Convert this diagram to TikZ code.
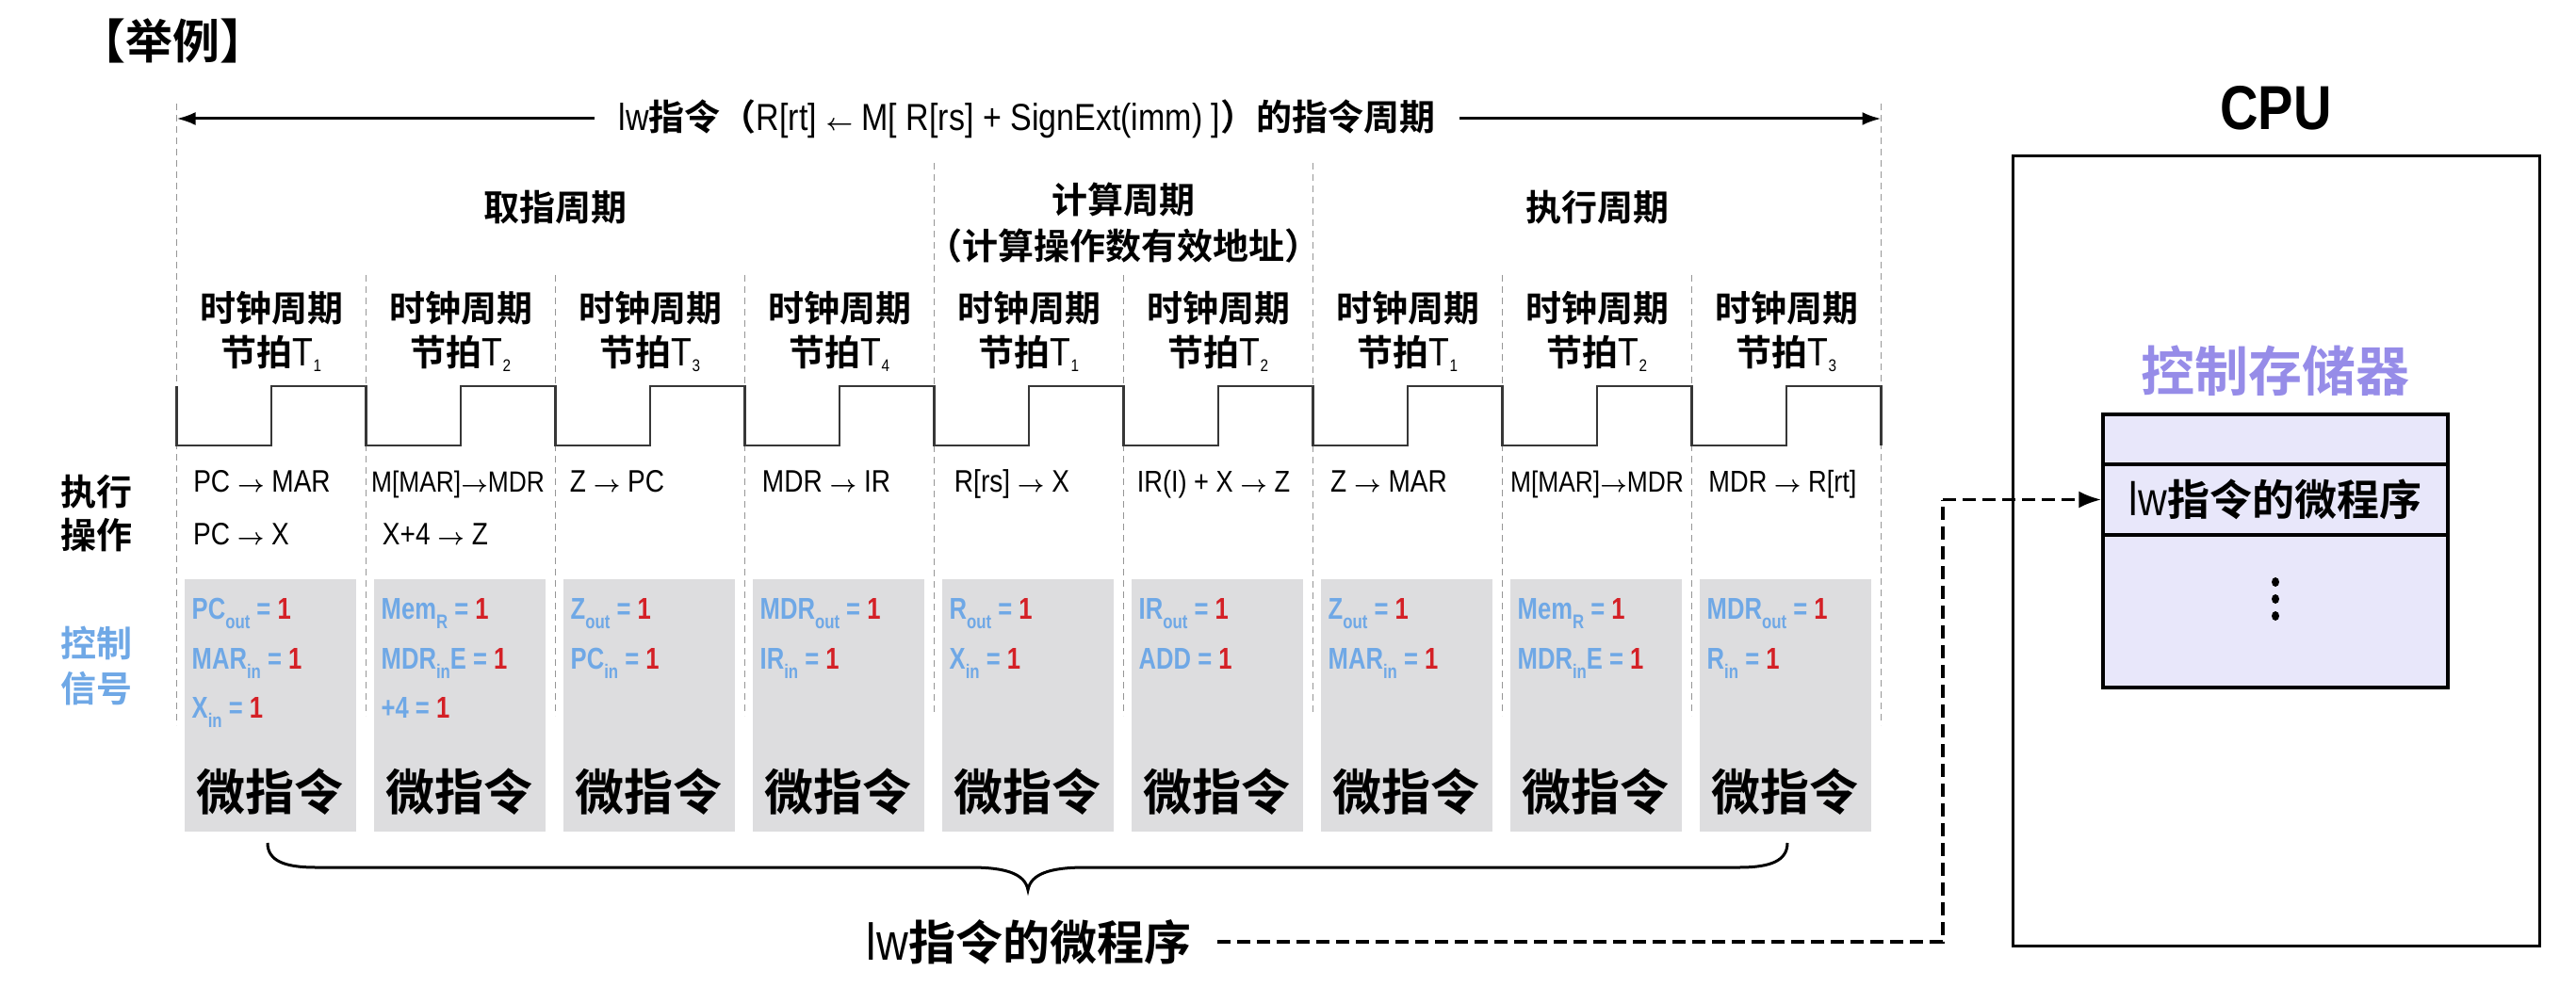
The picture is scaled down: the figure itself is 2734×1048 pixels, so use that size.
\documentclass[tikz,border=0pt]{standalone}
\usepackage{fontspec}
\setmainfont{Liberation Sans}
\newfontfamily\lat{Liberation Sans}[FakeStretch=0.85]
\newfontfamily\latsig{Liberation Sans Bold}[FakeStretch=0.8]
\newfontfamily\cjk{Noto Sans CJK SC Bold}
\usetikzlibrary{arrows.meta,calc}
\definecolor{sigblue}{RGB}{111,168,230}
\definecolor{sigred}{RGB}{212,32,38}
\definecolor{boxgray}{RGB}{221,221,223}
\definecolor{purp}{RGB}{150,140,232}
\definecolor{lav}{RGB}{232,231,250}
\definecolor{dashgray}{RGB}{150,150,150}
\definecolor{wavecol}{RGB}{55,55,55}
\newcommand\fs[1]{\fontsize{#1}{#1}\selectfont}
\newcommand\lo[1]{\raisebox{-10pt}{\fs{21}#1}}
\newcommand\one{{\color{sigred}1}}
\newcommand\tb[1]{{\lat\fs{42}T\raisebox{-6pt}{\fs{18}#1}}}
\newcommand\ra{\ {\boldmath$\rightarrow$}\ }
\newcommand\rb{{\boldmath$\rightarrow$}}
\newcommand\la{\ {\boldmath$\leftarrow$}\ }
\begin{document}
\begin{tikzpicture}[x=1pt,y=-1pt,
  sep/.style={draw=dashgray, line width=1.6pt, dash pattern=on 7pt off 5pt},
  wave/.style={draw=wavecol, line width=2.6pt},
  gbox/.style={fill=boxgray, minimum width=182pt, minimum height=268pt, inner sep=0pt},
  cjkl/.style={inner sep=0pt, font=\cjk\fs{38}},
  opl/.style={inner sep=0pt, anchor=base, font=\lat\fs{33}},
  sigl/.style={inner sep=0pt, anchor=base west, font=\latsig\fs{32}, text=sigblue},
  mic/.style={inner sep=0pt, font=\cjk\fs{52}},
  memrow/.style={draw=black, line width=3.5pt, fill=lav, minimum width=366pt, inner sep=0pt},
  dconn/.style={draw=black, line width=3.5pt, dash pattern=on 14pt off 7pt},
]
\useasboundingbox (0,0) rectangle (2734,1048);

% title
\node[inner sep=0pt, font=\cjk\fs{50}] (ex) at (183,43) {【举例】};

% separators
\foreach \i/\ya/\yb in {0/110/770,1/292/760,2/292/760,3/292/760,4/173/760,5/292/760,6/173/760,7/292/760,8/292/760,9/110/770}
  \draw[sep] ({187.5+201*\i},\ya) -- ({187.5+201*\i},\yb);

% instruction cycle arrow
\coordinate (tl) at (187.5,126);
\coordinate (tr) at (1996.5,126);
\node[inner xsep=26pt, inner ysep=0pt, font=\cjk\fs{38}] (title) at (1090,126)
  {{\lat\fs{40}lw}指令（{\lat\fs{40}R[rt]\la M[ R[rs] + SignExt(imm) ]}）的指令周期};
\draw[line width=3pt, -{Latex[length=20pt,width=14pt]}] (title.west) -- (tl);
\draw[line width=3pt, -{Latex[length=20pt,width=14pt]}] (title.east) -- (tr);

% phases
\node[cjkl] (ph1) at (589.5,220) {取指周期};
\node[cjkl] (ph2) at (1192.5,212) {计算周期};
\node[cjkl] (ph2b) at (1192.5,261) {（计算操作数有效地址）};
\node[cjkl] (ph3) at (1695,220) {执行周期};

% clock labels
\foreach \i/\t in {0/1,1/2,2/3,3/4,4/1,5/2,6/1,7/2,8/3} {
  \node[cjkl] (clk\i) at ({288+201*\i},327) {时钟周期};
  \node[cjkl] (beat\i) at ({288+201*\i},375) {节拍\tb{\t}};
}

% waveform
\draw[wave] (187.5,410) \foreach \i in {0,...,8}{ -- ++(0,63) -- ++(100.5,0) -- ++(0,-63) -- ++(100.5,0) } -- ++(0,63);

% row labels
\node[cjkl] (rl1) at (102,522) {执行};
\node[cjkl] (rl2) at (102,568) {操作};
\node[cjkl, text=sigblue] (rl3) at (102,683) {控制};
\node[cjkl, text=sigblue] (rl4) at (102,731) {信号};

% operations
\node[opl] (op1a) at (278,522) {PC\ra MAR};
\node[opl] (op1b) at (256,578) {PC\ra X};
\node[opl, font=\lat\fs{31}] (op2a) at (486,522) {M[MAR]\rb MDR};
\node[opl] (op2b) at (462,578) {X+4\ra Z};
\node[opl] (op3a) at (655,522) {Z\ra PC};
\node[opl] (op4a) at (877,522) {MDR\ra IR};
\node[opl] (op5a) at (1074,522) {R[rs]\ra X};
\node[opl, font=\lat\fs{32}] (op6a) at (1288,522) {IR(I) + X\ra Z};
\node[opl] (op7a) at (1474,522) {Z\ra MAR};
\node[opl, font=\lat\fs{31}] (op8a) at (1695,522) {M[MAR]\rb MDR};
\node[opl, font=\lat\fs{32}] (op9a) at (1892,522) {MDR\ra R[rt]};

% micro-instruction boxes
\foreach \i in {0,...,8} {
  \node[gbox] (mi\i) at ({286.5+201*\i},749) {};
  \node[mic] (mit\i) at ({286.5+201*\i},841) {微指令};
}

% control signals
\node[sigl] (s1a) at (203.5,657) {PC\lo{out} = \one};
\node[sigl] (s1b) at (203.5,710) {MAR\lo{in} = \one};
\node[sigl] (s1c) at (203.5,762) {X\lo{in} = \one};
\node[sigl] (s2a) at (404.5,657) {Mem\lo{R} = \one};
\node[sigl] (s2b) at (404.5,710) {MDR\lo{in}E = \one};
\node[sigl] (s2c) at (404.5,762) {+4 = \one};
\node[sigl] (s3a) at (605.5,657) {Z\lo{out} = \one};
\node[sigl] (s3b) at (605.5,710) {PC\lo{in} = \one};
\node[sigl] (s4a) at (806.5,657) {MDR\lo{out} = \one};
\node[sigl] (s4b) at (806.5,710) {IR\lo{in} = \one};
\node[sigl] (s5a) at (1007.5,657) {R\lo{out} = \one};
\node[sigl] (s5b) at (1007.5,710) {X\lo{in} = \one};
\node[sigl] (s6a) at (1208.5,657) {IR\lo{out} = \one};
\node[sigl] (s6b) at (1208.5,710) {ADD = \one};
\node[sigl] (s7a) at (1409.5,657) {Z\lo{out} = \one};
\node[sigl] (s7b) at (1409.5,710) {MAR\lo{in} = \one};
\node[sigl] (s8a) at (1610.5,657) {Mem\lo{R} = \one};
\node[sigl] (s8b) at (1610.5,710) {MDR\lo{in}E = \one};
\node[sigl] (s9a) at (1811.5,657) {MDR\lo{out} = \one};
\node[sigl] (s9b) at (1811.5,710) {R\lo{in} = \one};

% brace
\draw[line width=3pt] (284,895) .. controls (284,914) and (302,921) .. (335,921)
  -- (1030,921) .. controls (1068,921) and (1088,928) .. (1091,945)
  .. controls (1094,928) and (1114,921) .. (1152,921)
  -- (1846,921) .. controls (1879,921) and (1897,914) .. (1897,895);

% bottom label
\node[inner sep=0pt, font=\cjk\fs{50}] (prog) at (1092,1000) {{\lat\fs{55}lw}指令的微程序};

% CPU
\node[font=\lat\bfseries\fs{66}, inner sep=0pt] (cpulbl) at (2415.5,115) {CPU};
\node[draw=black, line width=3pt, minimum width=559pt, minimum height=838pt, inner sep=0pt] (cpu) at (2415.5,585) {};
\node[font=\cjk\fs{57}, text=purp, inner sep=0pt] (csl) at (2415,394) {控制存储器};
\node[memrow, minimum height=53pt] (row1) at (2415,466.5) {};
\node[memrow, minimum height=75pt, font=\cjk\fs{45}] (row2) at (2415,530.5) {{\lat\fs{50}lw}指令的微程序};
\node[memrow, minimum height=162pt] (row3) at (2415,649) {};
\fill (2415,618) ellipse (4pt and 5pt);
\fill (2415,636) ellipse (4pt and 5pt);
\fill (2415,654) ellipse (4pt and 5pt);

% dashed connector
\coordinate (bend) at (2062,530.5);
\draw[dconn] ([xshift=28pt]prog.east) -| (bend);
\draw[dconn, -{Latex[length=24pt,width=18pt]}] (bend) -- (row2.west);
\end{tikzpicture}
\end{document}
